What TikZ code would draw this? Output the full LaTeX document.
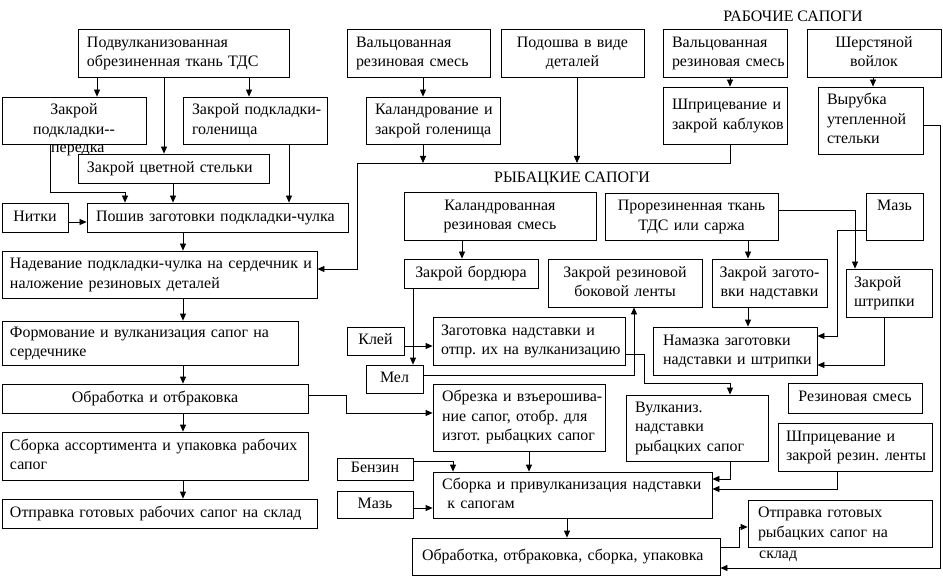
\documentclass[tikz,border=0pt]{standalone}
\usepackage{fontspec}
\setmainfont{Liberation Serif}
\usetikzlibrary{arrows.meta}
\frenchspacing
\tikzset{al l/.style={align=left}, al c/.style={align=center}}
\newcommand\bx[8][9]{%
  \pgfmathsetmacro\bw{#5-#3}\pgfmathsetmacro\bh{#6-#4}\pgfmathsetmacro\tw{#5-#3-2*#1}%
  \node[box, inner xsep=#1bp, minimum width=\bw bp, minimum height=\bh bp, text width=\tw bp, al #7] (#2) at ({(#3+#5)/2},{(#4+#6)/2}) {\begin{tabular}{@{}#7@{}}#8\end{tabular}};}
\begin{document}
\begin{tikzpicture}[x=1bp,y=-1bp,
  box/.style={draw, line width=0.8bp, inner ysep=0pt, font=\fontsize{16}{19.5}\selectfont\frenchspacing},
  lbl/.style={inner sep=1bp, font=\fontsize{16}{19.5}\selectfont},
  arr/.style={line width=0.8bp, -{Triangle[length=7bp,width=6bp]}},
  ln/.style={line width=0.8bp}]
\useasboundingbox (0,0) rectangle (943,578);
% ---- top left
\bx{sub}{78}{29}{289}{77}{l}{Подвулканизованная\\обрезиненная ткань ТДС}
\bx[4]{peredka}{2}{97}{146}{144}{c}{Закрой\\подкладки-{}-}
\node[lbl, anchor=west] (peredkaT) at (50,150) {передка};
\bx{golen}{183}{97}{327}{144}{l}{Закрой подкладки-\\голенища}
\bx{tsvet}{78}{154}{269}{183}{l}{Закрой цветной стельки}
\bx[3]{nitki}{2}{203}{68}{232}{c}{Нитки}
\bx[9]{poshiv}{87}{203}{348}{232}{l}{Пошив заготовки подкладки-чулка}
\bx[8]{nadev}{2}{251}{317}{298}{l}{Надевание подкладки-чулка на сердечник и\\наложение резиновых деталей}
\bx[8]{form}{2}{321}{298}{365}{l}{Формование и вулканизация сапог на\\сердечнике}
\bx{obr}{2}{384}{308}{413}{c}{Обработка и отбраковка}
\bx[8]{sbork}{2}{432}{308}{480}{l}{Сборка ассортимента и упаковка рабочих\\сапог}
\bx[8]{otpr}{2}{499}{317}{528}{l}{Отправка готовых рабочих сапог на склад}
% ---- top middle
\bx{valc1}{347}{29}{490}{77}{l}{Вальцованная\\резиновая смесь}
\bx{kaland}{366}{97}{500}{144}{l}{Каландрование и\\закрой голенища}
\bx[4]{podosh}{501}{29}{644}{77}{c}{Подошва в виде\\деталей}
% ---- top right
\node[lbl] (rab) at (793,16) {РАБОЧИЕ САПОГИ};
\bx{valc2}{663}{29}{787}{77}{l}{Вальцованная\\резиновая смесь}
\bx{shpr}{663}{87}{787}{144}{l}{Шприцевание и\\закрой каблуков}
\bx[4]{sherst}{807}{29}{941}{77}{c}{Шерстяной\\войлок}
\bx{vyrub}{818}{87}{923}{154}{l}{Вырубка\\утепленной\\стельки}
% ---- fishing boots
\node[lbl] (ryb) at (572,179) {РЫБАЦКИЕ САПОГИ};
\bx[4]{kalr}{404}{192}{596}{240}{c}{Каландрованная\\резиновая смесь}
\bx[4]{bord}{404}{259}{538}{288}{c}{Закрой бордюра}
\bx[4]{prorez}{605}{193}{778}{240}{c}{Прорезиненная ткань\\ТДС или саржа}
\bx[3]{mazr}{866}{193}{923}{240}{c}{Мазь\\\mbox{}}
\bx[4]{zrez}{548}{259}{702}{307}{c}{Закрой резиновой\\боковой ленты}
\bx[3]{zzag}{712}{259}{827}{307}{c}{Закрой загото-\\вки надставки}
\bx[8]{shtr}{846}{269}{932}{317}{l}{Закрой\\штрипки}
\bx[10]{namaz}{653}{327}{817}{375}{l}{Намазка заготовки\\надставки и штрипки}
\bx[3]{klei}{347}{327}{404}{355}{c}{Клей}
\bx[3]{mel}{366}{365}{423}{393}{c}{Мел}
\bx[8]{zagot}{433}{317}{625}{365}{l}{Заготовка надставки и\\отпр. их на вулканизацию}
\bx[9]{obrez}{433}{384}{605}{451}{l}{Обрезка и взъерошива-\\ние сапог, отобр. для\\изгот. рыбацких сапог}
\bx[9]{vulk}{626}{395}{768}{461}{l}{Вулканиз.\\надставки\\рыбацких сапог}
\bx[4]{rezs}{788}{383}{922}{413}{c}{Резиновая смесь}
\bx[8]{shpr2}{778}{423}{932}{471}{l}{Шприцевание и\\закрой резин. ленты}
\bx[9]{sborka2}{433}{472}{712}{518}{l}{Сборка и привулканизация надставки\\\ к сапогам}
\bx[3]{benz}{337}{458}{413}{480}{c}{Бензин}
\bx[3]{mazl}{337}{491}{413}{518}{c}{Мазь}
\bx[10]{obr2}{412}{538}{720}{575}{l}{Обработка, отбраковка, сборка, упаковка}
\bx[10]{otpr2}{748}{500}{932}{547}{l}{Отправка готовых\\рыбацких сапог на}
\node[lbl, anchor=west] (otpr2T) at (758,556) {склад};
% ---- connectors, left part
\draw[arr] (sub.south -| 97,0) -- (peredka.north -| 97,0);
\draw[arr] (sub.south -| 164,0) -- (tsvet.north -| 164,0);
\draw[arr] (sub.south -| 249,0) -- (golen.north -| 249,0);
\draw[arr] (peredka.south -| 50,0) -- (50,192) -- (125,192) -- (poshiv.north -| 125,0);
\draw[arr] (tsvet.south -| 173,0) -- (poshiv.north -| 173,0);
\draw[arr] (golen.south -| 289,0) -- (poshiv.north -| 289,0);
\draw[arr] (nitki.east |- 0,222) -- (poshiv.west |- 0,222);
\draw[arr] (poshiv.south -| 183,0) -- (nadev.north -| 183,0);
\draw[arr] (nadev.south -| 183,0) -- (form.north -| 183,0);
\draw[arr] (form.south -| 183,0) -- (obr.north -| 183,0);
\draw[arr] (obr.south -| 183,0) -- (sbork.north -| 183,0);
\draw[arr] (sbork.south -| 183,0) -- (otpr.north -| 183,0);
\draw[arr] (obr.east |- 0,395) -- (346,395) -- (346,413) -- (obrez.west |- 0,413);
% ---- connectors, top middle / right
\coordinate (busL) at (357,163);
\coordinate (busR) at (730,163);
\draw[arr] (valc1.south -| 423,0) -- (kaland.north -| 423,0);
\draw[arr] (kaland.south -| 423,0) -- (busL -| 423,0);
\draw[arr] (podosh.south -| 577,0) -- (busL -| 577,0);
\draw[arr] (shpr.south -| 730,0) -- (busR) -- (busL) -- (357,269) -- (nadev.east |- 0,269);
\draw[arr] (valc2.south -| 730,0) -- (shpr.north -| 730,0);
\draw[arr] (sherst.south -| 873,0) -- (vyrub.north -| 873,0);
\draw[arr] (vyrub.east |- 0,125) -- (940,125) -- (940,568) -- (obr2.east |- 0,568);
% ---- connectors, fishing boots
\draw[arr] (kalr.south -| 462,0) -- (bord.north -| 462,0);
\draw[arr] (bord.south -| 413,0) -- (mel.north -| 413,0);
\draw[arr] (klei.east |- 0,346) -- (zagot.west |- 0,346);
\draw[arr] (mel.east |- 0,375) -- (634,375) -- (zrez.south -| 634,0);
\draw[arr] (zagot.east |- 0,354) -- (644,354) -- (644,383) -- (730,383) -- (vulk.north -| 730,0);
\draw[arr] (prorez.south -| 748,0) -- (zzag.north -| 748,0);
\draw[arr] (prorez.east |- 0,210) -- (855,210) -- (shtr.north -| 855,0);
\draw[arr] (mazr.west |- 0,230) -- (837,230) -- (837,336) -- (namaz.east |- 0,336);
\draw[arr] (zzag.south -| 748,0) -- (namaz.north -| 748,0);
\draw[arr] (shtr.south -| 884,0) -- (884,365) -- (namaz.east |- 0,365);
\draw[arr] (obrez.south -| 529,0) -- (sborka2.north -| 529,0);
\draw[arr] (benz.east |- 0,461) -- (453,461) -- (sborka2.north -| 453,0);
\draw[arr] (mazl.east |- 0,508) -- (sborka2.west |- 0,508);
\draw[arr] (vulk.south -| 730,0) -- (730,479) -- (sborka2.east |- 0,479);
\draw[arr] (shpr2.south -| 837,0) -- (837,489) -- (sborka2.east |- 0,489);
\draw[arr] (sborka2.south -| 567,0) -- (obr2.north -| 567,0);
\draw[arr] (obr2.east |- 0,547) -- (739,547) -- (739,527) -- (otpr2.west |- 0,527);
\end{tikzpicture}
\end{document}
